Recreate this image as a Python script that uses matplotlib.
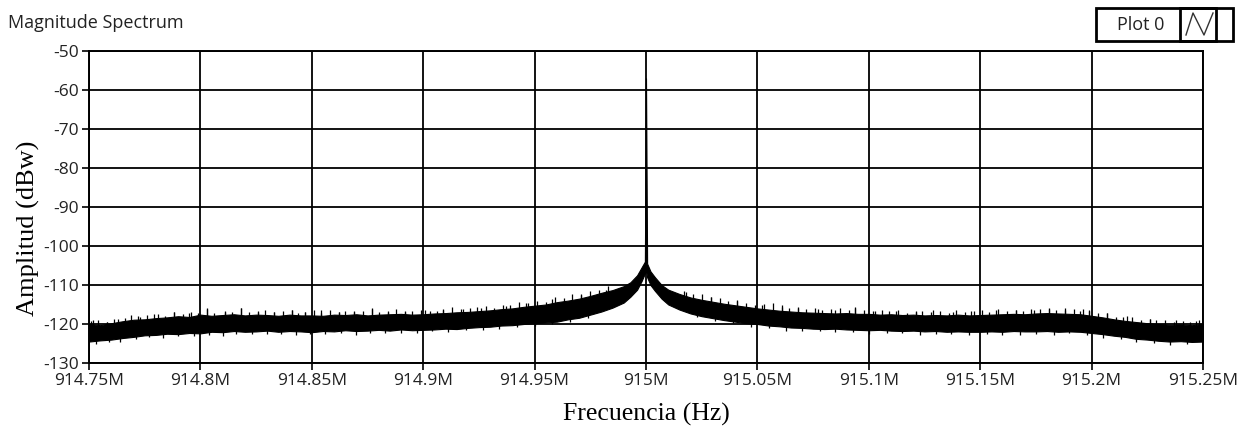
import numpy as np
import matplotlib.pyplot as plt
from matplotlib.ticker import FuncFormatter, MultipleLocator
from matplotlib.patches import Rectangle
from matplotlib.lines import Line2D

plt.rcParams['axes.unicode_minus'] = False

# noise band envelope (MHz, dBw)
freq_mhz = [914.750, 914.755, 914.760, 914.765, 914.770, 914.775, 914.780, 914.785, 914.790, 914.795,
            914.800, 914.805, 914.810, 914.815, 914.820, 914.825, 914.830, 914.835, 914.840, 914.845,
            914.850, 914.855, 914.860, 914.865, 914.870, 914.875, 914.880, 914.885, 914.890, 914.895,
            914.900, 914.905, 914.910, 914.915, 914.920, 914.925, 914.930, 914.935, 914.940, 914.945,
            914.950, 914.955, 914.960, 914.965, 914.970, 914.975, 914.980, 914.985, 914.990, 914.993,
            914.996, 914.998, 914.9995, 915.000, 915.0005, 915.002, 915.004, 915.007, 915.010, 915.015,
            915.020, 915.025, 915.030, 915.035, 915.040, 915.045, 915.050, 915.055, 915.060, 915.065,
            915.070, 915.075, 915.080, 915.085, 915.090, 915.095, 915.100, 915.105, 915.110, 915.115,
            915.120, 915.125, 915.130, 915.135, 915.140, 915.145, 915.150, 915.155, 915.160, 915.165,
            915.170, 915.175, 915.180, 915.185, 915.190, 915.195, 915.200, 915.205, 915.210, 915.215,
            915.220, 915.225, 915.230, 915.235, 915.240, 915.245, 915.250]
upper = [-120.0, -120.3, -119.8, -119.3, -118.9, -118.8, -118.5, -118.3, -118.0, -118.2,
         -117.6, -117.9, -117.7, -117.5, -117.8, -117.6, -117.7, -117.9, -117.6, -117.8,
         -117.8, -117.9, -117.6, -117.7, -117.5, -117.8, -117.6, -117.5, -117.4, -117.6,
         -117.5, -117.3, -117.2, -117.0, -116.9, -116.7, -116.5, -116.2, -116.0, -115.6,
         -115.3, -115.0, -114.4, -114.0, -113.5, -112.8, -112.0, -111.3, -110.3, -109.3,
         -107.5, -105.5, -104.0, -57.0, -104.5, -106.5, -108.0, -110.0, -111.2, -112.3,
         -113.2, -113.8, -114.3, -114.8, -115.2, -115.6, -116.0, -116.3, -116.6, -116.8,
         -117.0, -117.1, -117.2, -117.3, -117.2, -117.4, -117.4, -117.6, -117.5, -117.7,
         -117.6, -117.8, -117.7, -117.8, -117.6, -117.8, -117.7, -117.6, -117.5, -117.4,
         -117.5, -117.3, -117.2, -117.3, -117.4, -117.5, -117.9, -118.3, -118.8, -119.2,
         -119.5, -119.8, -120.0, -120.2, -120.1, -120.3, -120.0]
lower = [-124.5, -124.2, -124.0, -123.6, -123.3, -122.9, -122.8, -122.5, -122.6, -122.3,
         -122.4, -122.0, -122.1, -121.8, -122.0, -121.9, -121.7, -122.0, -121.8, -121.9,
         -122.1, -121.8, -121.9, -121.6, -121.8, -121.7, -121.5, -121.7, -121.4, -121.6,
         -121.5, -121.4, -121.2, -121.3, -121.0, -120.8, -120.7, -120.4, -120.3, -120.0,
         -119.8, -119.6, -119.4, -118.8, -118.4, -117.6, -116.8, -115.8, -114.5, -113.0,
         -111.2, -109.0, -107.0, -106.0, -108.0, -110.0, -111.5, -113.5, -115.0, -116.3,
         -117.3, -118.0, -118.5, -119.0, -119.4, -119.8, -120.0, -120.4, -120.6, -120.9,
         -121.0, -121.2, -121.3, -121.2, -121.4, -121.5, -121.6, -121.5, -121.7, -121.8,
         -121.7, -121.9, -121.8, -122.0, -121.9, -122.0, -122.0, -121.9, -122.0, -121.8,
         -121.9, -121.9, -121.8, -122.0, -121.9, -122.0, -122.3, -122.6, -123.0, -123.3,
         -123.8, -124.0, -124.3, -124.5, -124.4, -124.6, -124.5]

# tall noise spikes above the band (absolute tops, dBw)
spike_up_f = [914.752, 914.758, 914.763, 914.772, 914.779, 914.788, 914.796, 914.803, 914.811, 914.818,
              914.826, 914.833, 914.841, 914.847, 914.854, 914.862, 914.869, 914.877, 914.884, 914.892,
              914.901, 914.909, 914.918, 914.926, 914.937, 914.946, 914.958, 914.971, 914.982,
              915.018, 915.029, 915.041, 915.052, 915.061, 915.068, 915.077, 915.085, 915.094, 915.103,
              915.112, 915.121, 915.129, 915.138, 915.146, 915.157, 915.166, 915.174, 915.181, 915.188,
              915.195, 915.199, 915.207, 915.216, 915.226, 915.238, 915.247]
spike_up_top = [-119.0, -119.4, -118.6, -118.0, -117.4, -117.0, -116.9, -116.0, -116.8, -115.8,
                -116.7, -116.9, -116.5, -116.8, -116.3, -116.9, -116.6, -116.0, -116.8, -116.7,
                -116.5, -116.4, -116.2, -115.9, -115.4, -114.7, -113.5, -112.6, -111.2,
                -111.8, -113.0, -114.2, -115.0, -115.1, -115.9, -116.2, -116.4, -115.8, -116.6,
                -116.7, -116.9, -116.5, -116.8, -116.6, -116.5, -116.4, -116.3, -116.2, -116.4,
                -116.6, -116.5, -117.2, -118.0, -118.7, -119.0, -119.3]

# short jagged bits on the top edge (height above band top, dB)
jag_up_f = [914.751, 914.754, 914.758, 914.761, 914.766, 914.769, 914.773, 914.776, 914.781, 914.784,
            914.788, 914.792, 914.795, 914.799, 914.803, 914.806, 914.811, 914.814, 914.818, 914.822,
            914.826, 914.829, 914.833, 914.837, 914.841, 914.844, 914.847, 914.851, 914.854, 914.858,
            914.862, 914.865, 914.869, 914.873, 914.877, 914.880, 914.884, 914.888, 914.892, 914.895,
            914.899, 914.903, 914.906, 914.909, 914.913, 914.917, 914.921, 914.924, 914.928, 914.932,
            914.936, 914.939, 914.943, 914.947, 914.951, 914.955, 914.959, 914.963, 914.967, 914.971,
            914.975, 914.979, 914.983,
            915.017, 915.021, 915.025, 915.029, 915.033, 915.037, 915.041, 915.045, 915.049, 915.053,
            915.057, 915.061, 915.064, 915.068, 915.072, 915.076, 915.079, 915.083, 915.087, 915.091,
            915.094, 915.098, 915.102, 915.106, 915.109, 915.113, 915.117, 915.121, 915.124, 915.128,
            915.132, 915.136, 915.139, 915.143, 915.147, 915.151, 915.154, 915.158, 915.162, 915.166,
            915.169, 915.173, 915.177, 915.181, 915.184, 915.188, 915.192, 915.196, 915.199, 915.203,
            915.207, 915.211, 915.214, 915.218, 915.222, 915.226, 915.229, 915.233, 915.237, 915.241,
            915.244, 915.248]
jag_up_dh = [0.8, 1.2, 0.5, 1.0, 0.7, 1.4, 0.6, 1.1, 0.9, 0.5,
             1.3, 0.7, 1.0, 0.6, 1.7, 0.8, 1.1, 0.5, 1.9, 0.9,
             0.6, 1.2, 0.8, 1.0, 1.3, 0.6, 0.9, 1.5, 0.7, 1.2,
             0.8, 1.0, 0.6, 1.1, 1.6, 0.7, 0.9, 1.3, 0.5, 1.0,
             1.2, 0.8, 0.6, 1.1, 1.4, 0.7, 0.9, 1.0, 1.3, 0.6,
             1.1, 0.8, 1.5, 0.9, 1.2, 0.7, 1.4, 0.8, 1.6, 1.0,
             1.3, 0.9, 1.2,
             1.2, 0.9, 1.4, 1.0, 1.3, 0.8, 1.5, 1.1, 0.9, 1.4,
             1.7, 1.0, 0.8, 1.2, 0.9, 1.3, 0.7, 1.1, 1.4, 0.8,
             1.6, 1.0, 0.7, 1.2, 0.9, 1.3, 0.6, 1.0, 1.2, 0.8,
             1.1, 0.7, 1.3, 0.9, 1.0, 1.2, 0.8, 1.4, 0.9, 1.1,
             0.7, 1.3, 1.0, 1.2, 0.8, 1.5, 1.3, 1.4, 1.1, 0.9,
             1.2, 0.8, 1.0, 1.3, 0.7, 1.1, 0.9, 1.2, 0.6, 1.0,
             0.8, 1.1]

# dips on the bottom edge (depth below band bottom, dB)
jag_dn_f = [914.753, 914.759, 914.764, 914.771, 914.777, 914.783, 914.790, 914.797, 914.804, 914.810,
            914.816, 914.823, 914.830, 914.836, 914.843, 914.849, 914.856, 914.863, 914.870, 914.876,
            914.883, 914.890, 914.897, 914.904, 914.911, 914.919, 914.927, 914.934, 914.942, 914.950,
            914.958, 914.966, 914.974,
            915.023, 915.031, 915.039, 915.047, 915.055, 915.063, 915.070, 915.078, 915.085, 915.093,
            915.100, 915.108, 915.115, 915.123, 915.130, 915.137, 915.145, 915.153, 915.160, 915.168,
            915.175, 915.183, 915.190, 915.198, 915.205, 915.213, 915.220, 915.228, 915.235, 915.243]
jag_dn_dh = [0.8, 0.6, 1.0, 0.7, 0.5, 0.9, 0.6, 0.8, 0.7, 1.0,
             0.6, 0.5, 0.8, 0.7, 0.9, 0.6, 0.8, 0.5, 1.0, 0.7,
             0.6, 0.9, 0.7, 0.5, 0.8, 0.6, 0.9, 0.7, 0.6, 0.8,
             0.5, 0.7, 0.6,
             0.6, 0.7, 0.5, 0.8, 0.6, 0.9, 0.7, 0.5, 0.8, 0.6,
             0.9, 0.7, 0.6, 1.0, 0.7, 0.5, 0.8, 0.6, 0.7, 0.9,
             0.6, 0.8, 0.5, 0.7, 0.9, 0.6, 0.8, 0.7, 1.0, 0.6]

x_ticks_mhz = [914.75, 914.8, 914.85, 914.9, 914.95, 915.0, 915.05, 915.1, 915.15, 915.2, 915.25]

f = np.array(freq_mhz) * 1e6
up = np.array(upper)
lo = np.array(lower)
mid = (up + lo) / 2

fig = plt.figure(figsize=(12.5, 4.29), dpi=100)
ax = fig.add_axes([89/1250, 1-363/429, (1203-89)/1250, (363-51)/429])

ax.fill_between(f, lo, up, color='black', lw=0.8, zorder=3)
su = np.array(spike_up_f) * 1e6
ax.vlines(su, np.interp(su, f, mid), spike_up_top, color='black', lw=0.9, zorder=3)
ju = np.array(jag_up_f) * 1e6
jt = np.interp(ju, f, up)
ax.vlines(ju, jt - 0.5, jt + np.array(jag_up_dh), color='black', lw=0.9, zorder=3)
jd = np.array(jag_dn_f) * 1e6
jb = np.interp(jd, f, lo)
ax.vlines(jd, jb + 0.5, jb - np.array(jag_dn_dh), color='black', lw=0.9, zorder=3)

ax.set_xlim(914.75e6, 915.25e6)
ax.set_ylim(-130, -50)
ax.set_xticks(np.array(x_ticks_mhz) * 1e6)
ax.yaxis.set_major_locator(MultipleLocator(10))
ax.xaxis.set_major_formatter(FuncFormatter(lambda v, p: '%gM' % round(v / 1e6, 3)))
ax.grid(True, color='black', lw=1.3, zorder=1)
ax.set_axisbelow(True)
for s in ax.spines.values():
    s.set_linewidth(1.4)
    s.set_color('black')
ax.tick_params(direction='out', length=5, width=1.2, colors='black', labelcolor='#222222',
               labelsize=12.5, pad=2)
for lab in ax.get_xticklabels() + ax.get_yticklabels():
    lab.set_family('Open Sans')

ax.set_xlabel('Frecuencia (Hz)', family='Liberation Serif', fontsize=18.5, labelpad=10.5)
ax.set_ylabel('Amplitud (dBw)', family='Liberation Serif', fontsize=19)
ax.yaxis.set_label_coords(-0.044, 0.431)

fig.text(8/1250, 1-23/429, 'Magnitude Spectrum', family='Open Sans', fontsize=13,
         color='#222222', va='center', ha='left')

# legend box in the corner, drawn in figure pixels
def px(x, y):
    return (x/1250, 1-y/429)

fig.patches.append(Rectangle(px(1096, 41), 137/1250, 33/429, transform=fig.transFigure,
                             fill=False, ec='black', lw=2))
fig.patches.append(Rectangle(px(1180, 41), 36/1250, 33/429, transform=fig.transFigure,
                             fill=False, ec='black', lw=2))
fig.text(1141/1250, 1-25/429, 'Plot 0', family='Open Sans', fontsize=13, color='#222222',
         ha='center', va='center')
zx = [1186, 1193, 1204, 1213]
zy = [35, 13, 35, 13]
fig.lines.append(Line2D([v/1250 for v in zx], [1-v/429 for v in zy], transform=fig.transFigure,
                        color='#333333', lw=1))

plt.savefig('out.png', dpi=100)
